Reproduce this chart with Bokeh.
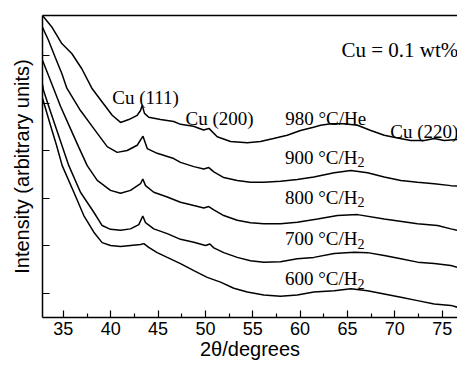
from bokeh.plotting import figure
from bokeh.models import Range1d, Label, FixedTicker, LinearAxis, CustomJSTickFormatter
from bokeh.embed import file_html
from bokeh.resources import INLINE

# 2-theta (degrees) and intensity (arbitrary units)
t980 = [32.80, 33.78, 34.84, 35.89, 36.95, 38.01, 39.10, 40.16, 41.04, 41.91, 42.80, 43.15, 43.33, 43.57,
        44.02, 45.26, 46.66, 47.37, 48.74, 49.80, 50.40, 51.25, 52.65, 54.42, 55.82, 57.19, 58.64, 60.04,
        61.42, 62.16, 63.24, 64.66, 66.06, 67.47, 68.88, 70.29, 71.69, 73.11, 74.16, 75.22, 76.62]
i980 = [5.85, 5.61, 5.26, 5.05, 4.73, 4.32, 4.03, 3.75, 3.60, 3.66, 3.75, 3.85, 3.96, 3.79,
        3.71, 3.66, 3.62, 3.56, 3.52, 3.44, 3.47, 3.30, 3.20, 3.17, 3.20, 3.26, 3.33, 3.43,
        3.50, 3.54, 3.57, 3.57, 3.54, 3.43, 3.33, 3.27, 3.22, 3.22, 3.26, 3.22, 3.24]

t900 = [32.80, 33.43, 34.14, 34.84, 35.37, 36.81, 38.22, 39.63, 40.69, 41.74, 42.80, 43.41, 43.86, 44.91,
        46.66, 47.37, 48.78, 49.83, 50.36, 50.89, 51.94, 53.36, 54.76, 56.17, 57.93, 59.70, 61.45, 63.60,
        65.36, 67.12, 68.88, 70.64, 72.40, 74.16, 75.92, 76.62]
i900 = [5.60, 5.33, 4.97, 4.63, 4.32, 3.85, 3.47, 3.09, 2.97, 3.01, 3.12, 3.31, 3.05, 2.95,
        2.84, 2.76, 2.67, 2.62, 2.65, 2.56, 2.44, 2.38, 2.34, 2.34, 2.36, 2.40, 2.45, 2.54,
        2.59, 2.54, 2.45, 2.38, 2.34, 2.31, 2.27, 2.26]

t800 = [32.80, 33.96, 34.70, 35.55, 36.60, 37.52, 38.58, 39.98, 41.04, 42.09, 43.15, 43.39, 43.68, 44.55,
        45.97, 47.37, 48.78, 49.83, 50.36, 50.89, 51.94, 53.36, 54.76, 56.17, 57.93, 59.70, 61.84, 63.95,
        66.06, 68.88, 72.40, 74.51, 75.92, 76.62]
i800 = [4.91, 4.32, 3.94, 3.56, 3.09, 2.69, 2.38, 2.17, 2.11, 2.17, 2.31, 2.41, 2.27, 2.13,
        2.03, 1.92, 1.85, 1.80, 1.83, 1.76, 1.64, 1.54, 1.49, 1.47, 1.47, 1.50, 1.57, 1.64,
        1.66, 1.57, 1.47, 1.43, 1.36, 1.33]

t700 = [32.80, 32.91, 33.64, 34.49, 35.58, 36.81, 38.22, 39.10, 39.98, 41.04, 42.09, 42.97, 43.39, 43.68,
        44.55, 45.97, 47.37, 48.78, 50.01, 50.47, 50.89, 51.94, 53.36, 54.76, 56.17, 57.93, 59.70, 61.45,
        63.60, 65.71, 67.12, 68.88, 70.64, 72.40, 74.16, 75.92, 76.62]
i700 = [4.40, 4.27, 3.83, 3.33, 2.69, 2.13, 1.71, 1.43, 1.35, 1.33, 1.36, 1.45, 1.63, 1.49,
        1.36, 1.26, 1.14, 1.08, 1.01, 1.04, 0.96, 0.86, 0.76, 0.69, 0.66, 0.67, 0.73, 0.76,
        0.84, 0.87, 0.86, 0.80, 0.73, 0.66, 0.63, 0.59, 0.55]

t600 = [32.80, 33.64, 34.28, 34.88, 36.11, 37.16, 38.22, 39.10, 39.98, 41.04, 42.09, 43.15, 43.50, 44.02,
        44.91, 45.97, 47.37, 48.78, 50.19, 51.60, 53.00, 54.42, 56.17, 57.93, 59.70, 61.45, 63.60, 65.36,
        67.12, 68.88, 70.64, 72.40, 74.16, 75.92, 76.62]
i600 = [4.11, 3.54, 3.12, 2.69, 2.13, 1.64, 1.29, 1.07, 1.01, 0.99, 1.01, 1.03, 1.05, 0.97,
        0.86, 0.76, 0.63, 0.48, 0.34, 0.24, 0.11, 0.03, -0.03, -0.06, -0.03, 0.03, 0.06, 0.10,
        0.06, -0.01, -0.08, -0.15, -0.22, -0.25, -0.29]

series = [(t980, i980), (t900, i900), (t800, i800), (t700, i700), (t600, i600)]
x_ticks = [35, 40, 45, 50, 55, 60, 65, 70, 75]
x_minor = [32.5, 37.5, 42.5, 47.5, 52.5, 57.5, 62.5, 67.5, 72.5, 77.5]
y_ticks = [0, 1, 2, 3, 4, 5]

SERIF = "Liberation Serif"
SANS = "Liberation Sans"

p = figure(width=457, height=365, output_backend="svg", toolbar_location=None,
           x_range=Range1d(32.8, 76.62), y_range=Range1d(-0.505, 5.85),
           min_border_left=42, min_border_right=0, min_border_top=15, min_border_bottom=48)
p.title.visible = False
p.background_fill_color = "white"
p.border_fill_color = "white"
p.outline_line_color = None
p.xgrid.visible = False
p.ygrid.visible = False

for t, inten in series:
    p.line(t, inten, line_color="black", line_width=1.5)

xa = p.xaxis[0]
xa.ticker = FixedTicker(ticks=x_ticks, minor_ticks=x_minor)
xa.axis_line_width = 1.5
xa.major_tick_in = 7
xa.major_tick_out = 0
xa.minor_tick_in = 4
xa.minor_tick_out = 0
xa.major_tick_line_width = 1.2
xa.minor_tick_line_width = 1.2
xa.major_label_text_font = SANS
xa.major_label_text_font_size = "18px"
xa.major_label_text_color = "black"
xa.major_label_standoff = 4
xa.axis_label = "2\u03b8/degrees"
xa.axis_label_text_font = SANS
xa.axis_label_text_font_size = "20px"
xa.axis_label_text_font_style = "normal"
xa.axis_label_text_color = "black"
xa.axis_label_standoff = 0

ya = p.yaxis[0]
ya.ticker = FixedTicker(ticks=y_ticks, minor_ticks=[])
ya.axis_line_width = 1.5
ya.major_tick_in = 7
ya.major_tick_out = 0
ya.major_tick_line_width = 1.2
ya.minor_tick_line_color = None
ya.formatter = CustomJSTickFormatter(code="return ''")
ya.major_label_text_font_size = "1px"
ya.major_label_text_color = None
ya.major_label_standoff = 0
ya.axis_label = "Intensity (arbitrary units)"
ya.axis_label_text_font = SANS
ya.axis_label_text_font_size = "20px"
ya.axis_label_text_font_style = "normal"
ya.axis_label_text_color = "black"
ya.axis_label_standoff = 10

top = LinearAxis(axis_line_width=1.5, major_tick_line_color=None, minor_tick_line_color=None,
                 major_label_text_font_size="1px", major_label_text_color=None,
                 major_label_standoff=0, formatter=CustomJSTickFormatter(code="return ''"))
p.add_layout(top, "above")

def lab(x, y, text, size="19px", align="left"):
    p.add_layout(Label(x=x, y=y, text=text, text_font=SERIF, text_font_size=size,
                       text_align=align, text_baseline="middle", text_color="black"))

# peak and sample annotations
lab(40.16, 4.13, "Cu (111)")
lab(47.90, 3.68, "Cu (200)")
lab(58.43, 3.68, "980 \u00b0C/He")
lab(69.52, 3.40, "Cu (220)")
lab(64.37, 5.12, "Cu = 0.1 wt%", size="21px")
for ylab, txt in [(2.87, "900 \u00b0C/H"), (2.03, "800 \u00b0C/H"), (1.15, "700 \u00b0C/H"), (0.31, "600 \u00b0C/H")]:
    lab(66.06, ylab, txt, align="right")
    lab(66.06, ylab - 0.11, "2", size="14px")

open("out.html", "w").write(file_html(p, INLINE))
